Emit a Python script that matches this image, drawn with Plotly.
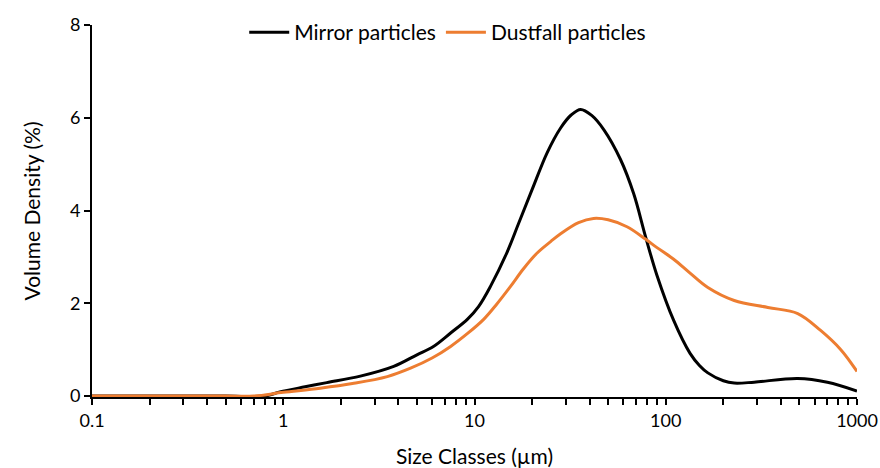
import plotly.graph_objects as go

# Particle size classes (µm) and volume density (%) for each sample
mirror_size = [0.1, 0.2, 0.5, 0.8, 0.96, 1.3, 1.69, 2.53, 3.78, 5.0, 6.1, 7.5, 9.2, 10.5,
               12.1, 14.8, 17, 20, 24, 28.2, 32, 35.9, 41, 47.5, 58, 68, 78.6, 90, 110,
               134, 150, 166, 200, 228, 290, 490, 700, 1000]
mirror_density = [0, 0, 0, 0, 0.09, 0.2, 0.29, 0.43, 0.64, 0.89, 1.07, 1.36, 1.66, 1.93,
                  2.36, 3.1, 3.72, 4.45, 5.25, 5.78, 6.06, 6.18, 6.05, 5.74, 5.1, 4.36, 3.42, 2.6, 1.63,
                  0.92, 0.66, 0.5, 0.33, 0.28, 0.3, 0.38, 0.3, 0.11]

dustfall_size = [0.1, 0.5, 0.7, 1.0, 1.56, 2.3, 3.5, 4.63, 6, 7.5, 9.2, 11.2, 13, 15.4,
                 18, 21.2, 25, 28.2, 35, 41.9, 50, 62.7, 78.6, 90, 110, 134, 166, 228,
                 342, 490, 643, 823, 1000]
dustfall_density = [0, 0, 0, 0.08, 0.17, 0.27, 0.42, 0.6, 0.82, 1.07, 1.35, 1.66, 1.97, 2.36,
                    2.74, 3.08, 3.33, 3.5, 3.74, 3.83, 3.8, 3.65, 3.38, 3.2, 2.95, 2.65, 2.34, 2.06,
                    1.91, 1.78, 1.42, 1.0, 0.53]

x_ticks = [0.1, 1, 10, 100, 1000]
x_tick_labels = ["0.1", "1", "10", "100", "1000"]
x_minor_ticks = [m * 10.0 ** e for e in range(-1, 3) for m in range(2, 10)]
y_ticks = [0, 2, 4, 6, 8]

FONT = "Lato, 'Open Sans', sans-serif"

fig = go.Figure()
fig.add_trace(go.Scatter(
    x=mirror_size, y=mirror_density, mode="lines", name="Mirror particles",
    line=dict(color="black", width=3, shape="spline", smoothing=1.0),
))
fig.add_trace(go.Scatter(
    x=dustfall_size, y=dustfall_density, mode="lines", name="Dustfall particles",
    line=dict(color="#ED7D31", width=3, shape="spline", smoothing=1.0),
))

fig.update_layout(
    width=880, height=468,
    margin=dict(l=92, r=23, t=20, b=71),
    paper_bgcolor="white", plot_bgcolor="white",
    font=dict(family=FONT, size=18, color="#000000"),
    legend=dict(orientation="h", x=0.465, xanchor="center", y=1.035, yanchor="top",
                font=dict(size=21), bgcolor="rgba(0,0,0,0)", itemwidth=40),
    xaxis=dict(
        type="log", range=[-1, 3], automargin=False,
        tickvals=x_ticks, ticktext=x_tick_labels,
        ticks="outside", ticklen=6, tickwidth=1.5, tickcolor="black",
        minor=dict(ticks="outside", ticklen=6, tickwidth=1.5, tickcolor="black",
                   tickvals=x_minor_ticks),
        showline=True, linecolor="black", linewidth=2,
        showgrid=False, zeroline=False,
        title=dict(text="Size Classes (µm)", font=dict(size=21), standoff=20),
        tickfont=dict(size=18),
    ),
    yaxis=dict(
        range=[-0.02, 8], tickvals=y_ticks, automargin=False,
        ticks="outside", ticklen=6, tickwidth=1.5, tickcolor="black",
        showline=True, linecolor="black", linewidth=2,
        showgrid=False, zeroline=False,
        title=dict(text="Volume Density (%)", font=dict(size=21), standoff=24),
        tickfont=dict(size=18),
    ),
)

fig.write_html("out.html")
